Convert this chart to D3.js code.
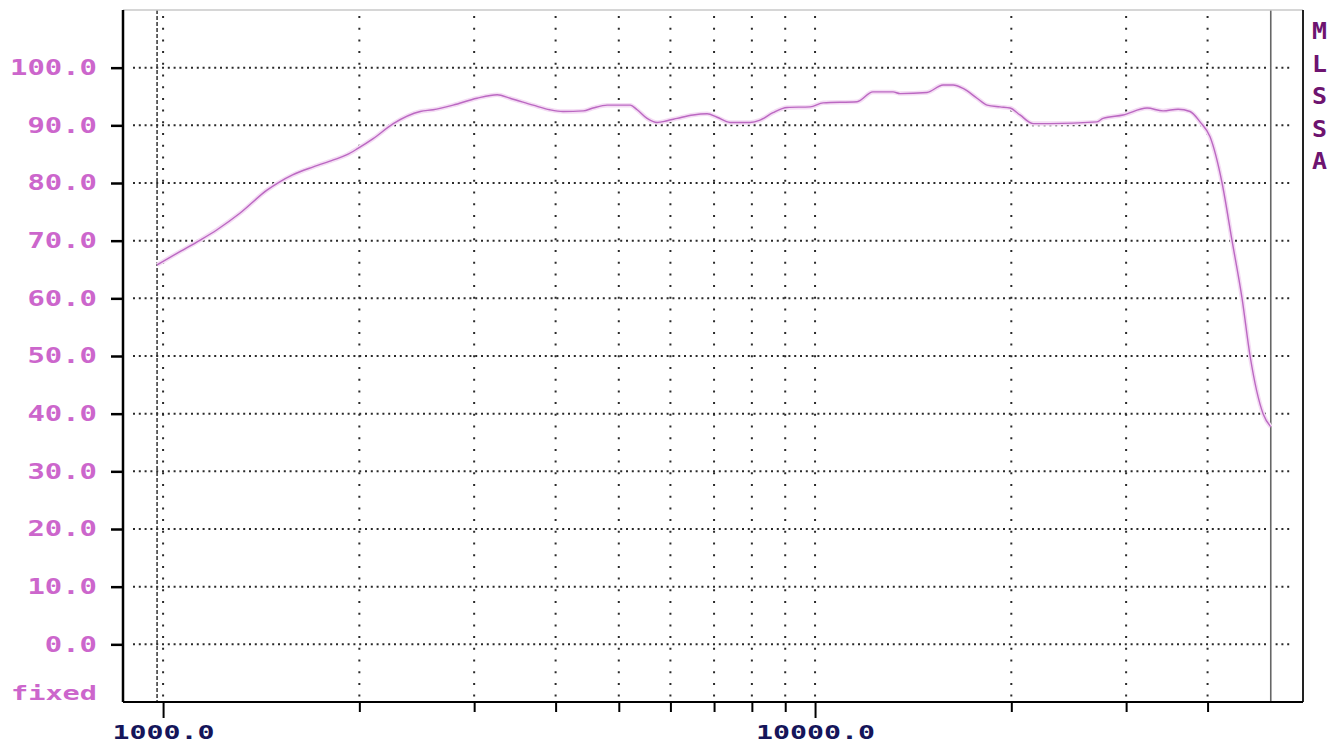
<!DOCTYPE html>
<html>
<head>
<meta charset="utf-8">
<script src="https://cdn.jsdelivr.net/npm/d3@7/dist/d3.min.js"></script>
<style>
  body { margin: 0; background: #fff; }
  svg { display: block; }
</style>
</head>
<body>
<script>
// response curve
const freqs = [979, 1050, 1140, 1210, 1310, 1445, 1510, 1580, 1700, 1825,
  1915, 1990, 2100, 2255, 2480, 2595, 2785, 3030, 3255, 3405,
  3695, 3920, 4105, 4410, 4565, 4800, 5205, 5335, 5525, 5725,
  5930, 6145, 6500, 6830, 7075, 7405, 7950, 8235, 8620, 9060,
  9825, 10290, 11600, 12270, 13170, 13500, 14850, 15720, 16280, 16870,
  17720, 18360, 19220, 19910, 20620, 21600, 22940, 27070, 27650, 29680,
  32300, 34180, 36040, 37600, 38950, 40350, 42100, 43610, 45180, 46480,
  48660, 50000];
const levels = [65.8, 67.8, 70.1, 71.9, 74.7, 78.8, 80.2, 81.4, 82.8, 84.0,
  84.9, 86.0, 87.7, 90.3, 92.4, 92.7, 93.5, 94.7, 95.3, 94.7,
  93.5, 92.7, 92.4, 92.5, 93.0, 93.5, 93.5, 92.7, 91.2, 90.5,
  90.8, 91.2, 91.8, 92.0, 91.4, 90.5, 90.5, 90.9, 92.2, 93.1,
  93.2, 93.9, 94.1, 95.8, 95.8, 95.5, 95.7, 97.0, 97.0, 96.4,
  94.7, 93.5, 93.2, 93.0, 91.8, 90.3, 90.3, 90.6, 91.2, 91.8,
  93.0, 92.5, 92.8, 92.4, 90.6, 88.0, 80.0, 70.0, 60.0, 50.0,
  40.0, 37.7];

const xTicks = [1000, 2000, 3000, 4000, 5000, 6000, 7000, 8000, 9000,
  10000, 20000, 30000, 40000];
const xLabelTicks = [1000, 10000];
const yTicks = [0, 10, 20, 30, 40, 50, 60, 70, 80, 90, 100];
const sideLetters = ["M", "L", "S", "S", "A"];
const startMarker = 979;   // dashed line
const endMarker = 50000;   // solid line

const W = 1329, H = 746;
const pLeft = 123, pRight = 1303, pTop = 10, pBottom = 702;

const svg = d3.select("body")
  .append("svg")
  .attr("width", W)
  .attr("height", H);

const x = d3.scaleLog()
  .domain([868, 56030])
  .range([pLeft, pRight]);

const y = d3.scaleLinear()
  .domain([-10, 110])
  .range([pBottom, pTop]);

const font = "'DejaVu Sans Mono', 'Liberation Mono', monospace";

// grid
svg.append("g")
  .selectAll("line")
  .data(yTicks)
  .enter().append("line")
  .attr("x1", pLeft + 10)
  .attr("x2", pRight - 10)
  .attr("y1", d => y(d))
  .attr("y2", d => y(d))
  .attr("stroke", "#2a2a2a")
  .attr("stroke-width", 2)
  .attr("stroke-dasharray", "2 3.8");

svg.append("g")
  .selectAll("line")
  .data(xTicks)
  .enter().append("line")
  .attr("x1", d => x(d))
  .attr("x2", d => x(d))
  .attr("y1", pTop + 6)
  .attr("y2", pBottom - 2)
  .attr("stroke", "#2a2a2a")
  .attr("stroke-width", 2)
  .attr("stroke-dasharray", "2 9.7");

// dashed start marker
svg.append("line")
  .attr("x1", x(startMarker))
  .attr("x2", x(startMarker))
  .attr("y1", pTop)
  .attr("y2", pBottom)
  .attr("stroke", "#333")
  .attr("stroke-width", 1.5)
  .attr("stroke-dasharray", "4 2");

// end marker (solid)
svg.append("line")
  .attr("x1", x(endMarker))
  .attr("x2", x(endMarker))
  .attr("y1", pTop)
  .attr("y2", pBottom)
  .attr("stroke", "#fff")
  .attr("stroke-width", 7);
svg.append("line")
  .attr("x1", x(endMarker))
  .attr("x2", x(endMarker))
  .attr("y1", pTop)
  .attr("y2", pBottom)
  .attr("stroke", "#666")
  .attr("stroke-width", 1.6);

// curve
const pts = freqs.map((f, i) => [f, levels[i]]);
const line = d3.line()
  .x(d => x(d[0]))
  .y(d => y(d[1]))
  .curve(d3.curveMonotoneX);

svg.append("path")
  .datum(pts)
  .attr("d", line)
  .attr("fill", "none")
  .attr("stroke", "#f4dcf4")
  .attr("stroke-width", 4.5);
svg.append("path")
  .datum(pts)
  .attr("d", line)
  .attr("fill", "none")
  .attr("stroke", "#bb68c2")
  .attr("stroke-width", 1.4);

// frame
svg.append("line")
  .attr("x1", pLeft).attr("x2", pRight)
  .attr("y1", pTop).attr("y2", pTop)
  .attr("stroke", "#c8c8c8")
  .attr("stroke-width", 1.5);
svg.append("line")
  .attr("x1", pRight).attr("x2", pRight)
  .attr("y1", pTop).attr("y2", pBottom)
  .attr("stroke", "#222")
  .attr("stroke-width", 2);

// y axis
const yAxis = svg.append("g")
  .attr("transform", `translate(${pLeft},0)`)
  .call(d3.axisLeft(y)
    .tickValues(yTicks)
    .tickFormat(d3.format(".1f"))
    .tickSize(12)
    .tickPadding(14));
yAxis.select(".domain")
  .attr("d", `M0,${pTop}V${pBottom}`)
  .attr("stroke", "#000")
  .attr("stroke-width", 2.5);
yAxis.selectAll(".tick line")
  .attr("stroke", "#000")
  .attr("stroke-width", 2.5);
yAxis.selectAll(".tick text")
  .attr("fill", "#cc66cc")
  .attr("font-family", font)
  .attr("font-weight", "bold")
  .attr("font-size", 21)
  .attr("textLength", d => d3.format(".1f")(d).length * 17.4)
  .attr("lengthAdjust", "spacingAndGlyphs");

svg.append("text")
  .attr("x", 97)
  .attr("y", 700)
  .attr("text-anchor", "end")
  .attr("fill", "#cc66cc")
  .attr("font-family", font)
  .attr("font-weight", "bold")
  .attr("font-size", 20)
  .attr("textLength", 86)
  .attr("lengthAdjust", "spacingAndGlyphs")
  .text("fixed");

// x axis
const xAxis = svg.append("g")
  .attr("transform", `translate(0,${pBottom})`)
  .call(d3.axisBottom(x)
    .tickValues(xTicks)
    .tickFormat(d => xLabelTicks.includes(d) ? d3.format(".1f")(d) : "")
    .tickSize(16)
    .tickPadding(7));
xAxis.select(".domain")
  .attr("d", `M${pLeft},0H${pRight}`)
  .attr("stroke", "#000")
  .attr("stroke-width", 2);
xAxis.selectAll(".tick line")
  .attr("stroke", "#000")
  .attr("stroke-width", 2)
  .attr("y2", d => xLabelTicks.includes(d) ? 16 : 10);
xAxis.selectAll(".tick text")
  .filter(d => xLabelTicks.includes(d))
  .attr("fill", "#15155a")
  .attr("font-family", font)
  .attr("font-weight", "bold")
  .attr("font-size", 20)
  .attr("textLength", d => d3.format(".1f")(d).length * 17)
  .attr("lengthAdjust", "spacingAndGlyphs");

// side letters
svg.append("g")
  .selectAll("text")
  .data(sideLetters)
  .enter().append("text")
  .attr("x", 1312)
  .attr("y", (d, i) => 39 + i * 32.5)
  .attr("fill", "#6e1470")
  .attr("font-family", font)
  .attr("font-weight", "bold")
  .attr("font-size", 23)
  .attr("textLength", 15)
  .attr("lengthAdjust", "spacingAndGlyphs")
  .text(d => d);
</script>
</body>
</html>
